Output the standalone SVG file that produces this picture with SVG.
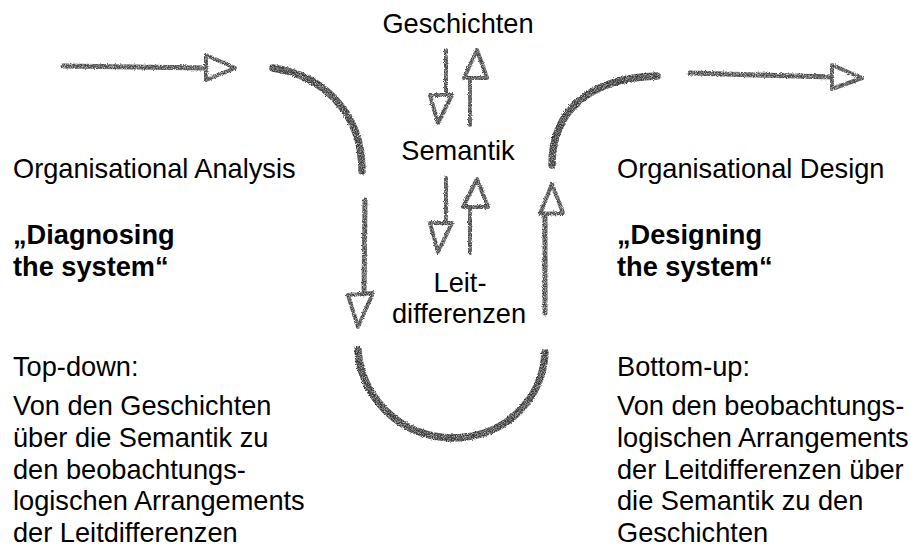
<svg xmlns="http://www.w3.org/2000/svg" width="911" height="548" viewBox="0 0 911 548">
<style>
text{font-family:"Liberation Sans",Arial,sans-serif;font-size:27.2px;fill:#000}
.b{font-weight:bold}
.c{text-anchor:middle}
.ln{fill:none;stroke:#444;stroke-width:5;stroke-linecap:round;stroke-linejoin:round}
.hd{fill:none;stroke:#444;stroke-width:4;stroke-linejoin:round}
.cv{fill:none;stroke:#383838;stroke-width:7.5;stroke-linecap:round}
</style>
<defs>
<filter id="pencil" filterUnits="userSpaceOnUse" x="0" y="0" width="911" height="548">
<feTurbulence type="fractalNoise" baseFrequency="1.1" numOctaves="2" seed="7" result="n"/>
<feColorMatrix in="n" type="matrix" values="0 0 0 0 0  0 0 0 0 0  0 0 0 0 0  1.6 0 0 0 0.0" result="g"/>
<feDisplacementMap in="SourceGraphic" in2="n" scale="3" xChannelSelector="R" yChannelSelector="G" result="d"/>
<feComposite in="d" in2="g" operator="in"/>
</filter>
</defs>
<rect width="911" height="548" fill="#fff"/>
<g id="connectors" filter="url(#pencil)">
<path class="ln" d="M63,66 L206,68"/>
<path class="hd" d="M206,55 L235,68 L206,80 Z"/>
<path class="cv" d="M273,68 C320,75 362,110 362,171"/>
<path class="ln" d="M365,200 L364,294"/>
<path class="hd" d="M348,295 L373,293 L358,327 Z"/>
<path class="cv" d="M358,350 C360,392 395,437 453,438 C510,437 543,395 545,353"/>
<path class="ln" d="M545,313 L545,214"/>
<path class="hd" d="M540,214 L563,213 L552,184 Z"/>
<path class="cv" d="M552,165 C552,110 590,78 657,76"/>
<path class="ln" d="M690,73 L832,77"/>
<path class="hd" d="M832,65 L862,78 L832,89 Z"/>
<path class="ln" d="M446,50 L446,95" style="stroke-width:4"/>
<path class="hd" d="M430,95 L452,95 L438,123 Z"/>
<path class="ln" d="M470,125 L470,78" style="stroke-width:4"/>
<path class="hd" d="M464,78 L487,78 L477,50 Z"/>
<path class="ln" d="M446,178 L446,223" style="stroke-width:4"/>
<path class="hd" d="M430,223 L452,223 L438,252 Z"/>
<path class="ln" d="M470,253 L470,207" style="stroke-width:4"/>
<path class="hd" d="M463,207 L488,207 L477,179 Z"/>
</g>
<g id="geschichten"><text class="c" x="458" y="33">Geschichten</text></g>
<g id="semantik"><text class="c" x="458" y="160">Semantik</text></g>
<g id="leitdifferenzen"><text class="c" x="460" y="292">Leit-</text><text class="c" x="459" y="323">differenzen</text></g>
<g id="analysis">
<text x="13" y="178">Organisational Analysis</text>
<text class="b" x="13" y="244">„Diagnosing</text>
<text class="b" x="13" y="276">the system“</text>
</g>
<g id="topdown">
<text x="13" y="376">Top-down:</text>
<text x="13" y="415">Von den Geschichten</text>
<text x="13" y="447">über die Semantik zu</text>
<text x="13" y="479">den beobachtungs-</text>
<text x="13" y="510">logischen Arrangements</text>
<text x="13" y="542">der Leitdifferenzen</text>
</g>
<g id="design">
<text x="617" y="178">Organisational Design</text>
<text class="b" x="617" y="244">„Designing</text>
<text class="b" x="617" y="276">the system“</text>
</g>
<g id="bottomup">
<text x="617" y="376">Bottom-up:</text>
<text x="617" y="415">Von den beobachtungs-</text>
<text x="617" y="447">logischen Arrangements</text>
<text x="617" y="479">der Leitdifferenzen über</text>
<text x="617" y="510">die Semantik zu den</text>
<text x="617" y="542">Geschichten</text>
</g>
</svg>
